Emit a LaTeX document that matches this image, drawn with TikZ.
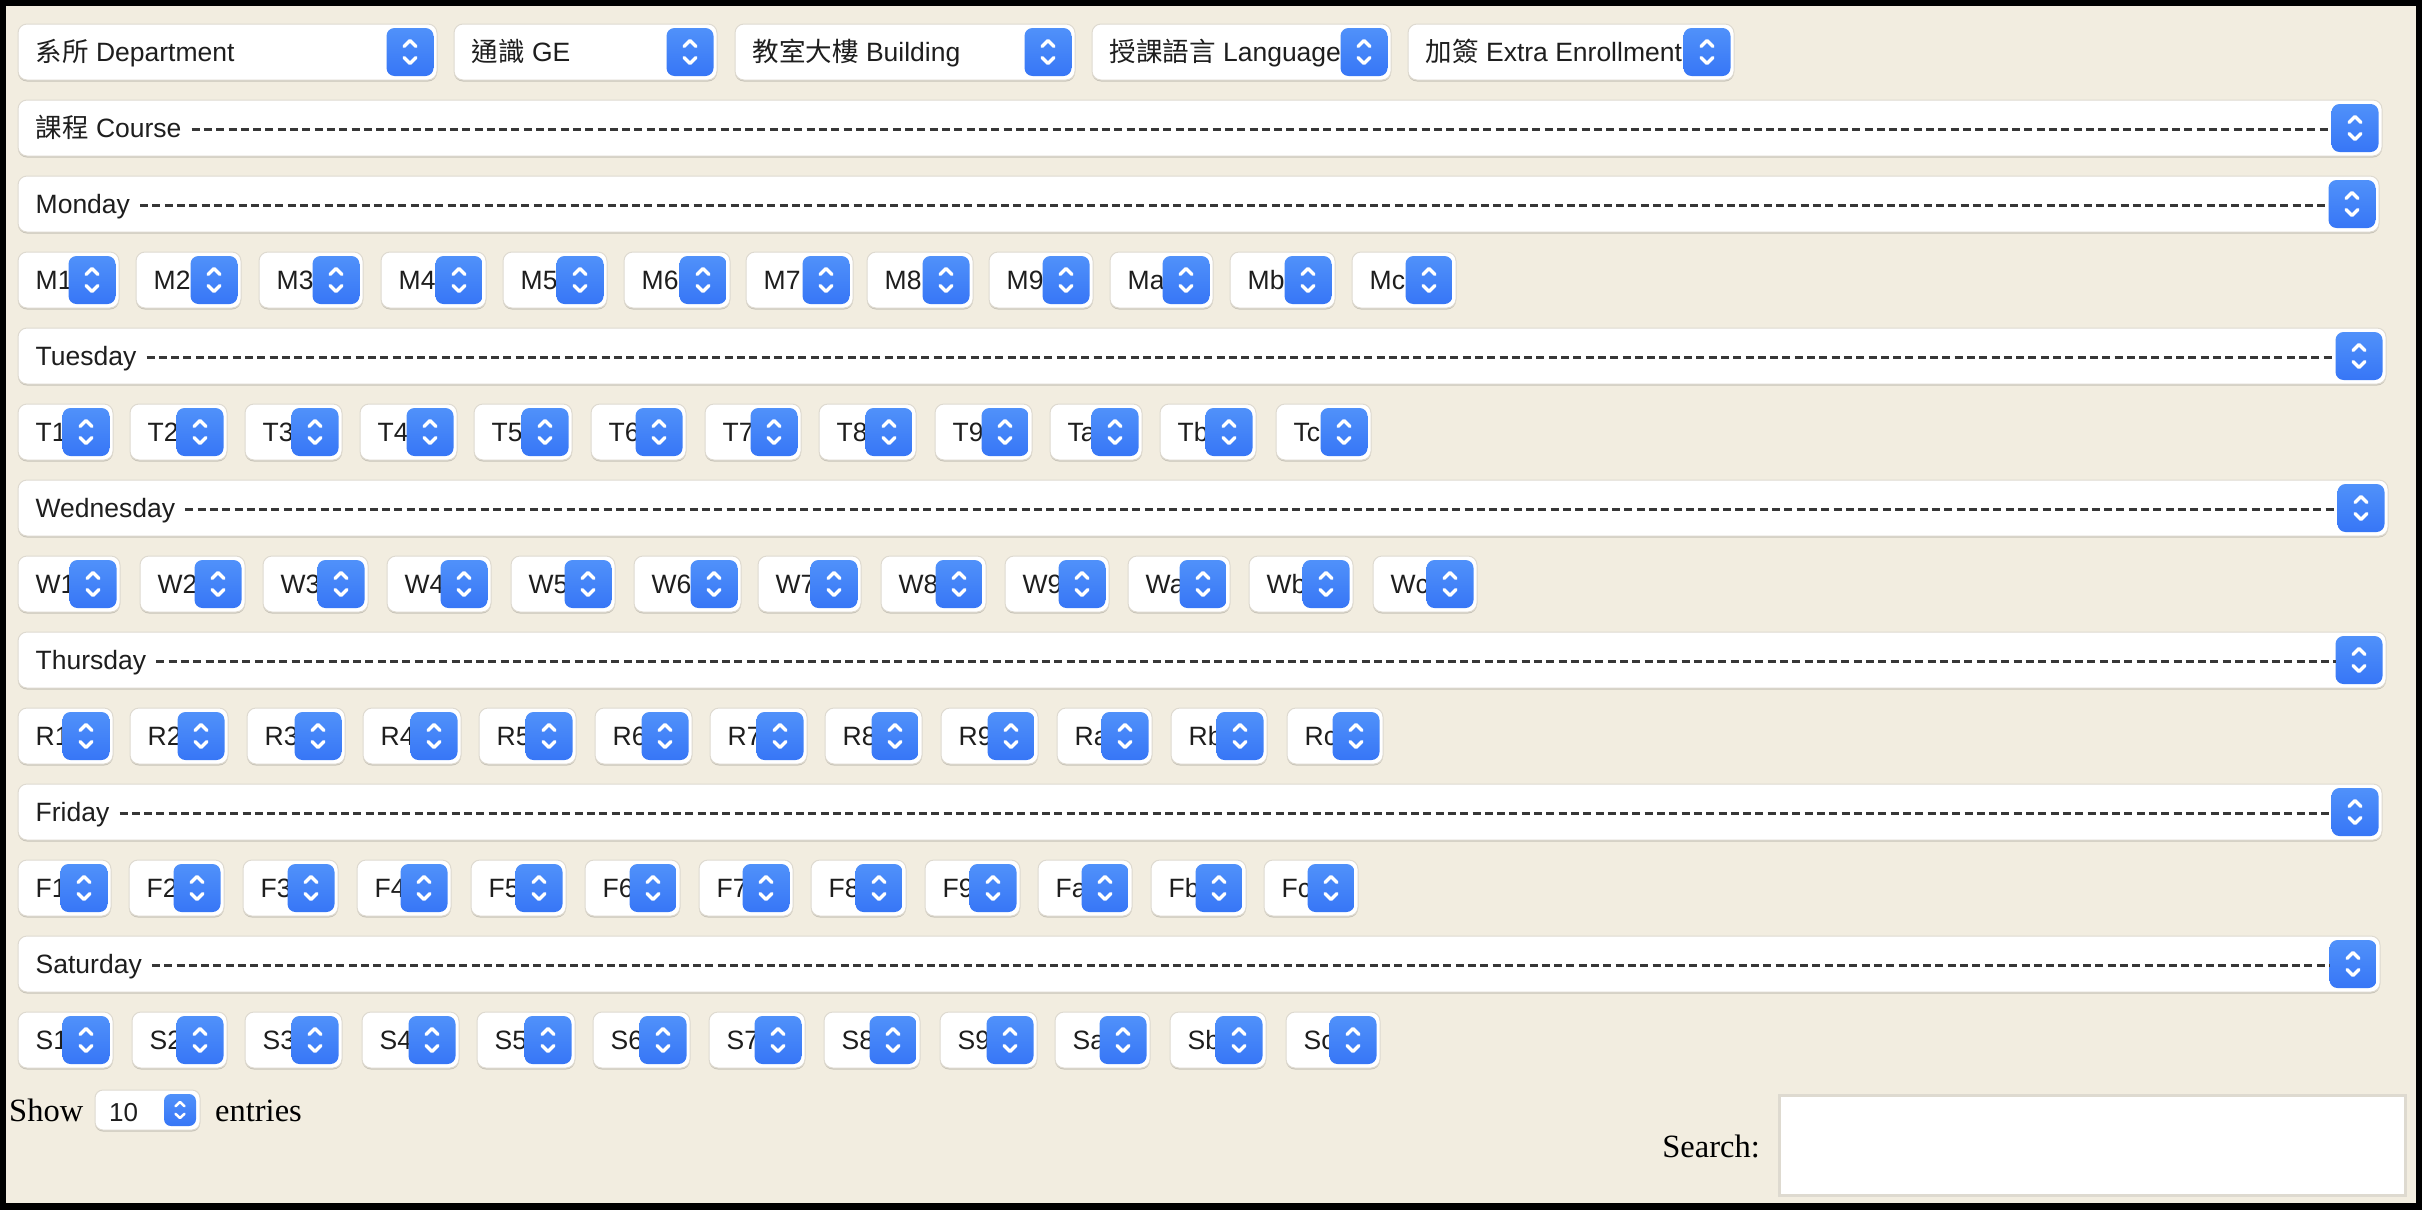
\documentclass[tikz,border=0pt]{standalone}
\usepackage{fontspec}
\setmainfont{Liberation Serif}
\newfontfamily\uisans{Liberation Sans}
\newfontfamily\cjk{Noto Sans CJK TC}
\definecolor{bg}{RGB}{242,237,224}
\definecolor{btop}{RGB}{80,145,250}
\definecolor{bbot}{RGB}{55,118,246}
\definecolor{bxline}{RGB}{222,218,208}
\definecolor{shad}{RGB}{200,196,185}
\definecolor{txt}{RGB}{30,30,30}
\definecolor{dashc}{RGB}{55,55,55}
\tikzset{
 selbox/.style={draw=bxline, line width=1pt, fill=white, rounded corners=9pt, inner sep=0pt, outer sep=0pt, minimum height=56pt, anchor=north west},
 seltext/.style={font=\uisans\fontsize{26.5}{30}\selectfont, text=txt, inner sep=0pt, anchor=base west},
 serif/.style={font=\fontsize{32.5}{36}\selectfont, text=black, inner sep=0pt, anchor=base west},
 btn/.style={top color=btop, bottom color=bbot, rounded corners=8pt, minimum width=47pt, minimum height=48pt, inner sep=0pt, outer sep=0pt},
 sbtn/.style={top color=btop, bottom color=bbot, rounded corners=7pt, minimum width=32pt, minimum height=32pt, inner sep=0pt, outer sep=0pt},
 chev/.style={white, line width=3.3pt, line cap=round, line join=round},
 schev/.style={white, line width=2.5pt, line cap=round, line join=round},
 dashln/.style={dashc, line width=2.5pt, dash pattern=on 8pt off 4.3pt},
}
\newcommand{\mkchev}[1]{%
 \draw[chev] ([xshift=-6pt,yshift=5.5pt]#1.center) -- ([yshift=11.5pt]#1.center) -- ([xshift=6pt,yshift=5.5pt]#1.center);
 \draw[chev] ([xshift=-6pt,yshift=-5.5pt]#1.center) -- ([yshift=-11.5pt]#1.center) -- ([xshift=6pt,yshift=-5.5pt]#1.center);
}
\newcommand{\mkschev}[1]{%
 \draw[schev] ([xshift=-4.5pt,yshift=3.8pt]#1.center) -- ([yshift=8pt]#1.center) -- ([xshift=4.5pt,yshift=3.8pt]#1.center);
 \draw[schev] ([xshift=-4.5pt,yshift=-3.8pt]#1.center) -- ([yshift=-8pt]#1.center) -- ([xshift=4.5pt,yshift=-3.8pt]#1.center);
}
% name, left, right, top, label
\newcommand{\selbox}[5]{%
 \fill[shad, rounded corners=9pt] (#2,#4+2) rectangle (#3,#4+57.5);
 \node[selbox, minimum width=#3-#2] (#1) at (#2,#4) {};
 \node[seltext] (#1-t) at (#2+17.5,#4+37.5) {#5};
 \node[btn] (#1-b) at (#3-27,#4+28) {};
 \mkchev{#1-b}
}
% name, right, top, label
\newcommand{\dashrow}[4]{%
 \fill[shad, rounded corners=9pt] (18,#3+2) rectangle (#2,#3+57.5);
 \node[selbox, minimum width=#2-18] (#1) at (18,#3) {};
 \node[seltext] (#1-t) at (35.5,#3+37.5) {#4};
 \node[btn] (#1-b) at (#2-27,#3+28) {};
 \coordinate (#1-d) at ([xshift=10pt,yshift=8pt]#1-t.base east);
 \draw[dashln] (#1-d) -- (#1-d -| #1-b.west);
 \mkchev{#1-b}
}
\begin{document}
\begin{tikzpicture}[x=1pt,y=-1pt]
\useasboundingbox (0,0) rectangle (2422,1210);
\fill[black] (0,0) rectangle (2422,1210);
\fill[bg] (6,6) rectangle (2416,1203);
% top row
\selbox{dep}{18}{437}{24}{{\cjk 系所} Department}
\selbox{ge}{454}{717}{24}{{\cjk 通識} GE}
\selbox{bld}{735}{1075}{24}{{\cjk 教室大樓} Building}
\selbox{lang}{1092}{1391}{24}{{\cjk 授課語言} Language}
\selbox{extra}{1408}{1734}{24}{{\cjk 加簽} Extra Enrollment}
% day rows
\dashrow{course}{2382}{100}{{\cjk 課程} Course}
\dashrow{mon}{2379}{176}{Monday}
\dashrow{tue}{2386}{328}{Tuesday}
\dashrow{wed}{2388}{480}{Wednesday}
\dashrow{thu}{2386}{632}{Thursday}
\dashrow{fri}{2382}{784}{Friday}
\dashrow{sat}{2380}{936}{Saturday}
% slot rows
\foreach \n/\l/\r in {M1/18/119, M2/136/241, M3/259/363, M4/381/486, M5/503/607, M6/624/730, M7/746/853, M8/867/973, M9/989/1093, Ma/1110/1213, Mb/1230/1335, Mc/1352/1456}
 {\selbox{\n}{\l}{\r}{252}{\n}}
\foreach \n/\l/\r in {T1/18/113, T2/130/227, T3/245/342, T4/360/457, T5/474/572, T6/591/686, T7/705/801, T8/819/916, T9/935/1032, Ta/1050/1142, Tb/1160/1256, Tc/1276/1371}
 {\selbox{\n}{\l}{\r}{404}{\n}}
\foreach \n/\l/\r in {W1/18/120, W2/140/245, W3/263/368, W4/387/491, W5/511/615, W6/634/741, W7/758/861, W8/881/986, W9/1005/1109, Wa/1128/1230, Wb/1249/1353, Wc/1373/1477}
 {\selbox{\n}{\l}{\r}{556}{\n}}
\foreach \n/\l/\r in {R1/18/113, R2/130/228, R3/247/345, R4/363/461, R5/479/576, R6/595/692, R7/710/807, R8/825/922, R9/941/1038, Ra/1057/1152, Rb/1171/1267, Rc/1287/1383}
 {\selbox{\n}{\l}{\r}{708}{\n}}
\foreach \n/\l/\r in {F1/18/111, F2/129/224, F3/243/338, F4/357/451, F5/471/566, F6/585/680, F7/699/793, F8/811/906, F9/925/1020, Fa/1038/1132, Fb/1151/1246, Fc/1264/1358}
 {\selbox{\n}{\l}{\r}{860}{\n}}
\foreach \n/\l/\r in {S1/18/113, S2/132/227, S3/245/342, S4/362/459, S5/477/575, S6/593/690, S7/709/805, S8/824/920, S9/940/1037, Sa/1055/1150, Sb/1170/1266, Sc/1286/1380}
 {\selbox{\n}{\l}{\r}{1012}{\n}}
% show entries
\node[serif] (show) at (9,1121) {Show};
\fill[shad, rounded corners=8pt] (95,1091.5) rectangle (200,1131.5);
\node[selbox, minimum width=105pt, minimum height=40pt, rounded corners=8pt] (len) at (95,1090) {};
\node[seltext, font=\uisans\fontsize{26}{30}\selectfont] (len-t) at (109,1121) {10};
\node[sbtn] (len-b) at (180,1110) {};
\mkschev{len-b}
\node[serif] (entries) at (215,1121) {entries};
% search
\node[serif, anchor=base east] (searchlbl) at (1760,1157) {Search:};
\node[draw=bxline, line width=2.5pt, fill=white, minimum width=626pt, minimum height=100pt, inner sep=0pt, anchor=north west] (search) at (1778,1094) {};
\end{tikzpicture}
\end{document}
